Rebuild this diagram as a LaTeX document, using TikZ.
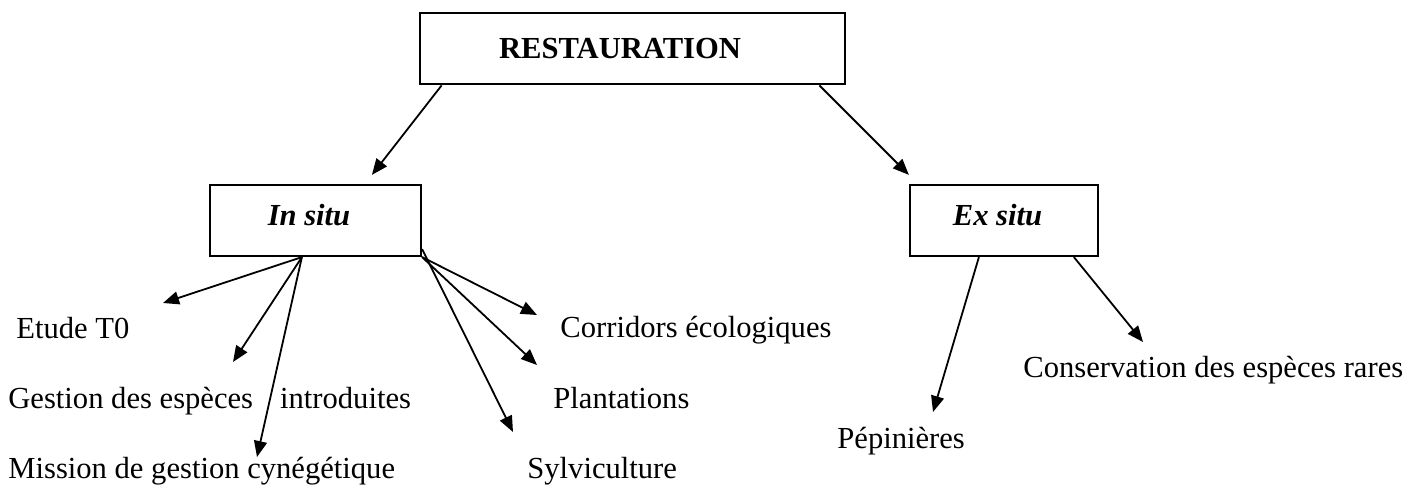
\documentclass[tikz,border=0pt]{standalone}
\usepackage{fontspec}
\setmainfont{Liberation Serif}
\usetikzlibrary{arrows.meta,calc}
\begin{document}
\begin{tikzpicture}[x=0.5pt,y=-0.5pt,
  boxnode/.style={draw,inner sep=0pt,minimum height=35.5pt,text depth=0pt},
  lbl/.style={anchor=base west,inner sep=0pt,font=\fontsize{15.3}{18}\selectfont},
  conn/.style={line width=0.9pt,-{Triangle[length=8pt,width=6.5pt]}}]
\useasboundingbox (0,0) rectangle (1427,488);
% boxes
\node[boxnode,line width=1.4pt,minimum width=212.5pt,text height=9.5pt,
      font=\bfseries\fontsize{15.3}{18}\selectfont] (top) at (632.5,48.5) {RESTAURATION\hspace*{12.5pt}};
\node[boxnode,line width=1.1pt,minimum width=105.5pt,text height=4.5pt,
      font=\bfseries\itshape\fontsize{15.3}{18}\selectfont] (insitu) at (315.5,220.5) {In situ\hspace*{6.5pt}};
\node[boxnode,line width=1.1pt,minimum width=94pt,text height=4.5pt,
      font=\bfseries\itshape\fontsize{15.3}{18}\selectfont] (exsitu) at (1004,220.5) {Ex situ\hspace*{6.5pt}};
% labels
\node[lbl] (etude) at (16,338) {Etude T0};
\node[lbl] (gestion) at (8,408) {Gestion des espèces\hspace*{13.5pt}introduites};
\node[lbl] (mission) at (8,478) {Mission de gestion cynégétique};
\node[lbl] (corridors) at (560,337) {Corridors écologiques};
\node[lbl] (plantations) at (553,408) {Plantations};
\node[lbl] (sylvi) at (527,478) {Sylviculture};
\node[lbl] (pepi) at (837,448) {Pépinières};
\node[lbl] (conserv) at (1023,377) {Conservation des espèces rares};
% connectors
\draw[conn] ($(top.south west)+(23,0)$) -- ($(insitu.north west)+(163,-9)$);
\draw[conn] ($(top.south east)+(-27,0)$) -- ($(exsitu.north west)+(0,-9)$);
\draw[conn] ($(insitu.south west)+(93,0)$) -- ($(etude.base west)+(147,-35)$);
\draw[conn] ($(insitu.south west)+(93,0)$) -- ($(gestion.base west)+(225,-46)$);
\draw[conn] ($(insitu.south west)+(93,0)$) -- ($(mission.base west)+(249,-21)$);
\draw[conn] (insitu.south east) -- ($(corridors.base west)+(-23,-22)$);
\draw[conn] (insitu.south east) -- ($(plantations.base west)+(-16,-43)$);
\draw[conn] ($(insitu.south east)+(0,-8)$) -- ($(sylvi.base west)+(-14,-46)$);
\draw[conn] ($(exsitu.south west)+(70,0)$) -- ($(pepi.base west)+(96,-36)$);
\draw[conn] ($(exsitu.south west)+(165,0)$) -- ($(conserv.base west)+(120,-35)$);
\end{tikzpicture}
\end{document}
